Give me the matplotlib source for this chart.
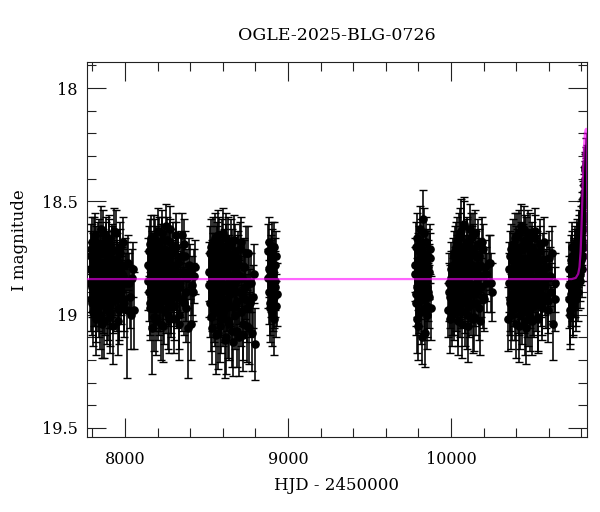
import matplotlib
matplotlib.use("Agg")
import matplotlib.pyplot as plt
from matplotlib.ticker import MultipleLocator

plt.rcParams['font.family'] = ['DejaVu Serif']

title = "OGLE-2025-BLG-0726"
xlabel = "HJD - 2450000"
ylabel = "I magnitude"

# ---- season data (HJD-2450000, I mag, error) ----
s1_hjd = [7786, 7790, 7794, 7797, 7801, 7805, 7808, 7812, 7816, 7820, 7823, 7827, 7831, 7835, 7838,
          7842, 7846, 7850, 7853, 7857, 7861, 7865, 7869, 7872, 7876, 7880, 7884, 7888, 7891, 7895,
          7899, 7903, 7907, 7911, 7915, 7919, 7923, 7927, 7931, 7935, 7940, 7945, 7950, 7955, 7960,
          7966, 7972, 7978, 7985, 7992, 8000, 8010, 8022, 8038, 8055]
s1_mag = [18.80, 18.93, 18.71, 18.88, 18.99, 18.76, 18.85, 18.67, 18.91, 18.82, 19.02, 18.74, 18.87, 18.79, 18.96,
          18.69, 18.84, 18.90, 18.73, 19.04, 18.81, 18.64, 18.89, 18.77, 18.95, 18.83, 18.70, 18.98, 18.86, 18.75,
          18.92, 18.66, 18.84, 19.01, 18.78, 18.88, 18.72, 18.94, 18.81, 18.63, 18.90, 18.85, 18.76, 19.03, 18.80,
          18.97, 18.70, 18.87, 18.83, 18.93, 18.78, 18.98, 18.86, 19.00, 18.98]
s1_err = [0.12, 0.14, 0.11, 0.13, 0.15, 0.12, 0.12, 0.10, 0.14, 0.12, 0.16, 0.11, 0.13, 0.12, 0.14,
          0.11, 0.13, 0.13, 0.11, 0.15, 0.12, 0.10, 0.13, 0.12, 0.14, 0.12, 0.11, 0.15, 0.13, 0.12,
          0.14, 0.10, 0.12, 0.16, 0.12, 0.13, 0.11, 0.14, 0.12, 0.10, 0.13, 0.13, 0.12, 0.15, 0.12,
          0.14, 0.11, 0.13, 0.12, 0.14, 0.12, 0.30, 0.13, 0.15, 0.17]
s1b_hjd = [7788, 7792, 7796, 7799, 7803, 7807, 7810, 7814, 7818, 7822, 7825, 7829, 7833, 7837, 7840,
           7844, 7848, 7852, 7855, 7859, 7863, 7867, 7871, 7874, 7878, 7882, 7886, 7890, 7893, 7897,
           7901, 7905, 7909, 7913, 7917, 7921, 7925, 7929, 7933, 7937, 7943, 7948, 7953, 7958, 7963,
           7969, 7975, 7982, 7989, 7996, 8005, 8016, 8030, 8046, 8050]
s1b_mag = [18.86, 18.74, 18.95, 18.68, 18.83, 18.91, 18.79, 18.65, 18.88, 18.97, 18.72, 18.85, 18.93, 18.70, 18.81,
           19.00, 18.77, 18.89, 18.62, 18.84, 18.94, 18.73, 18.86, 19.03, 18.78, 18.67, 18.90, 18.82, 18.96, 18.75,
           18.88, 18.69, 18.99, 18.80, 18.92, 18.71, 18.84, 19.05, 18.76, 18.87, 18.64, 18.93, 18.79, 18.85, 18.98,
           18.73, 18.90, 18.82, 18.68, 18.95, 18.86, 18.77, 18.92, 18.84, 18.80]
s1b_err = [0.13, 0.11, 0.14, 0.11, 0.12, 0.14, 0.12, 0.10, 0.13, 0.15, 0.11, 0.13, 0.14, 0.11, 0.12,
           0.15, 0.12, 0.13, 0.10, 0.13, 0.14, 0.11, 0.13, 0.16, 0.12, 0.10, 0.14, 0.12, 0.15, 0.12,
           0.13, 0.11, 0.15, 0.12, 0.14, 0.11, 0.13, 0.17, 0.12, 0.13, 0.10, 0.14, 0.12, 0.13, 0.15,
           0.11, 0.14, 0.12, 0.11, 0.15, 0.13, 0.12, 0.14, 0.13, 0.12]

s2_hjd = [8142, 8147, 8152, 8156, 8160, 8164, 8168, 8172, 8176, 8180, 8184, 8188, 8192, 8196, 8200,
          8204, 8208, 8212, 8216, 8220, 8224, 8228, 8232, 8236, 8240, 8244, 8248, 8252, 8256, 8260,
          8264, 8268, 8272, 8276, 8280, 8285, 8290, 8295, 8300, 8305, 8310, 8316, 8322, 8328, 8334,
          8340, 8347, 8354, 8361, 8368, 8376, 8385, 8396, 8410, 8427]
s2_mag = [18.78, 18.90, 18.69, 18.95, 18.83, 18.74, 19.06, 18.86, 18.66, 18.92, 18.80, 19.03, 18.72, 18.88, 18.81,
          18.97, 18.68, 18.85, 18.93, 18.76, 18.64, 18.89, 18.82, 19.05, 18.71, 18.87, 18.79, 18.94, 18.67, 18.84,
          19.00, 18.75, 18.91, 18.62, 18.83, 18.96, 18.73, 18.86, 19.02, 18.80, 18.70, 18.92, 18.85, 18.77, 19.04,
          18.88, 18.65, 18.82, 18.95, 18.74, 18.90, 19.06, 18.81, 18.87, 18.79]
s2_err = [0.12, 0.13, 0.11, 0.14, 0.12, 0.11, 0.20, 0.13, 0.10, 0.14, 0.12, 0.15, 0.11, 0.13, 0.12,
          0.14, 0.11, 0.13, 0.14, 0.12, 0.10, 0.13, 0.12, 0.16, 0.11, 0.13, 0.12, 0.14, 0.10, 0.13,
          0.15, 0.12, 0.14, 0.10, 0.12, 0.14, 0.11, 0.13, 0.15, 0.12, 0.11, 0.14, 0.13, 0.12, 0.16,
          0.13, 0.10, 0.12, 0.14, 0.11, 0.13, 0.22, 0.12, 0.13, 0.12]
s2b_hjd = [8144, 8149, 8154, 8158, 8162, 8166, 8170, 8174, 8178, 8182, 8186, 8190, 8194, 8198, 8202,
           8206, 8210, 8214, 8218, 8222, 8226, 8230, 8234, 8238, 8242, 8246, 8250, 8254, 8258, 8262,
           8266, 8270, 8274, 8278, 8282, 8287, 8292, 8297, 8302, 8307, 8313, 8319, 8325, 8331, 8337,
           8343, 8350, 8357, 8364, 8372, 8380, 8390, 8403, 8418, 8424]
s2b_mag = [18.85, 18.72, 18.97, 18.80, 18.66, 18.91, 18.83, 18.76, 19.01, 18.69, 18.87, 18.93, 18.74, 18.82, 18.63,
           18.95, 18.78, 18.89, 18.71, 19.04, 18.84, 18.67, 18.92, 18.80, 18.98, 18.75, 18.86, 18.61, 18.90, 18.82,
           18.73, 19.02, 18.85, 18.68, 18.94, 18.79, 18.88, 18.70, 18.96, 18.83, 18.65, 18.91, 18.77, 19.00, 18.86,
           18.74, 18.93, 18.81, 18.69, 18.97, 18.84, 18.78, 19.04, 18.90, 18.83]
s2b_err = [0.13, 0.11, 0.14, 0.12, 0.10, 0.14, 0.13, 0.12, 0.15, 0.11, 0.13, 0.14, 0.11, 0.12, 0.10,
           0.14, 0.12, 0.13, 0.11, 0.16, 0.13, 0.10, 0.14, 0.12, 0.15, 0.12, 0.13, 0.10, 0.14, 0.12,
           0.11, 0.15, 0.13, 0.10, 0.14, 0.12, 0.13, 0.11, 0.15, 0.12, 0.10, 0.14, 0.12, 0.15, 0.13,
           0.11, 0.14, 0.12, 0.11, 0.15, 0.13, 0.12, 0.16, 0.13, 0.12]

s3_hjd = [8516, 8521, 8526, 8530, 8534, 8538, 8542, 8546, 8550, 8554, 8558, 8562, 8566, 8570, 8574,
          8578, 8582, 8586, 8590, 8594, 8598, 8602, 8606, 8610, 8614, 8618, 8622, 8626, 8630, 8634,
          8638, 8642, 8646, 8650, 8655, 8660, 8665, 8670, 8675, 8680, 8686, 8692, 8698, 8704, 8710,
          8716, 8722, 8728, 8735, 8742, 8750, 8758, 8767, 8778, 8792]
s3_mag = [18.81, 18.95, 18.70, 18.88, 19.06, 18.76, 18.92, 18.84, 18.66, 18.99, 18.79, 18.90, 18.73, 19.08, 18.86,
          18.68, 18.94, 18.82, 19.02, 18.75, 18.89, 18.64, 18.97, 18.80, 18.87, 19.10, 18.72, 18.93, 18.83, 18.69,
          19.04, 18.78, 18.91, 18.85, 18.74, 19.12, 18.88, 18.67, 18.96, 18.81, 19.07, 18.77, 18.90, 18.71, 18.99,
          18.84, 19.09, 18.79, 18.93, 18.73, 19.05, 18.86, 18.95, 19.08, 18.82]
s3_err = [0.13, 0.15, 0.12, 0.14, 0.16, 0.12, 0.14, 0.13, 0.11, 0.15, 0.13, 0.14, 0.12, 0.16, 0.13,
          0.11, 0.15, 0.13, 0.15, 0.12, 0.14, 0.11, 0.15, 0.13, 0.14, 0.16, 0.12, 0.14, 0.13, 0.12,
          0.16, 0.12, 0.14, 0.13, 0.12, 0.15, 0.14, 0.11, 0.15, 0.13, 0.16, 0.12, 0.14, 0.12, 0.15,
          0.13, 0.16, 0.13, 0.14, 0.12, 0.16, 0.13, 0.15, 0.17, 0.13]
s3b_hjd = [8518, 8523, 8528, 8532, 8536, 8540, 8544, 8548, 8552, 8556, 8560, 8564, 8568, 8572, 8576,
           8580, 8584, 8588, 8592, 8596, 8600, 8604, 8608, 8612, 8616, 8620, 8624, 8628, 8632, 8636,
           8640, 8644, 8648, 8652, 8657, 8662, 8667, 8672, 8677, 8683, 8689, 8695, 8701, 8707, 8713,
           8719, 8725, 8731, 8738, 8746, 8754, 8762, 8772, 8785, 8796]
s3b_mag = [18.87, 18.73, 19.01, 18.80, 18.93, 18.68, 18.85, 18.97, 18.76, 19.09, 18.83, 18.71, 18.92, 18.65, 18.88,
           19.05, 18.79, 18.95, 18.86, 18.70, 18.99, 18.82, 18.74, 19.11, 18.89, 18.66, 18.93, 18.80, 19.03, 18.77,
           18.90, 18.84, 18.69, 18.96, 19.07, 18.78, 18.87, 18.72, 19.00, 18.85, 18.94, 18.75, 19.10, 18.83, 18.68,
           18.91, 19.04, 18.79, 18.88, 18.97, 18.73, 19.06, 18.86, 18.92, 19.13]
s3b_err = [0.14, 0.12, 0.15, 0.13, 0.14, 0.11, 0.13, 0.15, 0.12, 0.17, 0.13, 0.12, 0.14, 0.11, 0.14,
           0.16, 0.12, 0.15, 0.13, 0.12, 0.15, 0.13, 0.12, 0.17, 0.14, 0.11, 0.14, 0.13, 0.16, 0.12,
           0.14, 0.13, 0.11, 0.15, 0.16, 0.12, 0.14, 0.12, 0.15, 0.13, 0.15, 0.12, 0.17, 0.13, 0.11,
           0.14, 0.16, 0.12, 0.14, 0.15, 0.12, 0.16, 0.13, 0.14, 0.16]

s4_hjd = [8878, 8882, 8886, 8890, 8894, 8898, 8902, 8906, 8910, 8914, 8918, 8922, 8926, 8931]
s4_mag = [18.72, 18.90, 18.80, 18.97, 18.76, 18.86, 18.70, 18.93, 18.82, 19.02, 18.78, 18.88, 18.74, 18.91]
s4_err = [0.12, 0.14, 0.12, 0.15, 0.11, 0.13, 0.11, 0.14, 0.12, 0.16, 0.12, 0.13, 0.11, 0.14]
s4b_hjd = [8880, 8884, 8888, 8892, 8896, 8900, 8904, 8908, 8912, 8916, 8920, 8924]
s4b_mag = [18.84, 18.68, 18.95, 18.79, 18.88, 18.73, 18.99, 18.81, 18.70, 18.92, 18.85, 18.96]
s4b_err = [0.13, 0.11, 0.14, 0.12, 0.13, 0.11, 0.15, 0.12, 0.11, 0.14, 0.13, 0.14]

s5_hjd = [9780, 9784, 9788, 9792, 9796, 9800, 9804, 9808, 9812, 9816, 9820, 9824, 9828, 9832, 9836,
          9840, 9844, 9848, 9852, 9856, 9861, 9866, 9872, 9880]
s5_mag = [18.82, 18.95, 18.70, 18.88, 19.05, 18.76, 18.91, 18.62, 18.84, 18.99, 18.73, 18.87, 18.58, 18.93, 18.79,
          19.08, 18.68, 18.85, 18.96, 18.74, 18.90, 18.81, 18.75, 18.97]
s5_err = [0.12, 0.14, 0.11, 0.13, 0.15, 0.12, 0.14, 0.10, 0.13, 0.14, 0.11, 0.13, 0.13, 0.14, 0.12,
          0.15, 0.11, 0.13, 0.14, 0.12, 0.13, 0.12, 0.11, 0.14]
s5b_hjd = [9782, 9786, 9790, 9794, 9798, 9802, 9806, 9810, 9814, 9818, 9822, 9826, 9830, 9834, 9838,
           9842, 9846, 9850, 9854, 9858, 9864, 9869]
s5b_mag = [18.78, 18.91, 18.66, 19.02, 18.85, 18.72, 18.94, 18.81, 18.69, 18.89, 19.10, 18.76, 18.86, 18.64, 18.97,
           18.83, 18.74, 19.00, 18.88, 18.79, 18.92, 18.71]
s5b_err = [0.12, 0.14, 0.11, 0.15, 0.13, 0.11, 0.14, 0.12, 0.11, 0.13, 0.12, 0.12, 0.13, 0.11, 0.14,
           0.13, 0.11, 0.15, 0.13, 0.12, 0.14, 0.11]

s6_hjd = [9984, 9990, 9996, 10001, 10006, 10011, 10016, 10021, 10026, 10030, 10034, 10038, 10042, 10046, 10050,
          10054, 10058, 10062, 10066, 10070, 10074, 10078, 10082, 10086, 10090, 10094, 10098, 10102, 10106, 10110,
          10114, 10118, 10122, 10126, 10130, 10135, 10140, 10145, 10150, 10155, 10160, 10166, 10172, 10178, 10185,
          10193, 10202, 10214, 10230, 10248]
s6_mag = [18.98, 18.86, 18.92, 18.80, 19.00, 18.84, 18.74, 18.95, 18.82, 18.70, 18.90, 18.77, 19.03, 18.66, 18.86,
          18.79, 18.96, 18.63, 18.88, 18.73, 18.92, 18.81, 18.60, 18.99, 18.76, 18.85, 18.68, 19.05, 18.79, 18.90,
          18.62, 18.83, 18.95, 18.72, 18.87, 18.65, 19.01, 18.80, 18.91, 18.74, 18.84, 18.69, 18.97, 18.78, 18.88,
          18.71, 18.93, 18.82, 18.77, 18.86]
s6_err = [0.12, 0.13, 0.14, 0.12, 0.14, 0.12, 0.11, 0.14, 0.12, 0.11, 0.13, 0.12, 0.15, 0.11, 0.13,
          0.12, 0.14, 0.14, 0.13, 0.11, 0.13, 0.12, 0.12, 0.15, 0.11, 0.13, 0.11, 0.16, 0.12, 0.13,
          0.11, 0.12, 0.14, 0.11, 0.13, 0.10, 0.15, 0.12, 0.14, 0.11, 0.12, 0.11, 0.14, 0.12, 0.13,
          0.11, 0.14, 0.12, 0.12, 0.13]
s6b_hjd = [9987, 9993, 9999, 10004, 10009, 10014, 10019, 10024, 10028, 10032, 10036, 10040, 10044, 10048, 10052,
           10056, 10060, 10064, 10068, 10072, 10076, 10080, 10084, 10088, 10092, 10096, 10100, 10104, 10108, 10112,
           10116, 10120, 10124, 10128, 10132, 10137, 10142, 10147, 10152, 10157, 10163, 10169, 10175, 10181, 10189,
           10197, 10208, 10222, 10240, 10252]
s6b_mag = [18.90, 19.02, 18.84, 18.95, 18.78, 18.88, 18.97, 18.72, 18.85, 18.93, 18.68, 18.81, 18.99, 18.75, 18.89,
           18.64, 18.92, 18.79, 19.04, 18.70, 18.86, 18.61, 18.94, 18.77, 18.83, 19.00, 18.69, 18.88, 18.73, 18.96,
           18.82, 18.66, 18.91, 18.78, 19.02, 18.71, 18.87, 18.64, 18.95, 18.80, 18.89, 18.74, 19.03, 18.83, 18.68,
           18.92, 18.79, 18.86, 18.77, 18.90]
s6b_err = [0.13, 0.15, 0.12, 0.14, 0.12, 0.13, 0.14, 0.11, 0.13, 0.14, 0.11, 0.12, 0.15, 0.12, 0.13,
           0.11, 0.14, 0.12, 0.15, 0.11, 0.13, 0.11, 0.14, 0.12, 0.13, 0.15, 0.11, 0.13, 0.12, 0.14,
           0.12, 0.11, 0.14, 0.12, 0.15, 0.11, 0.13, 0.10, 0.14, 0.12, 0.13, 0.12, 0.15, 0.12, 0.11,
           0.14, 0.12, 0.13, 0.12, 0.13]

s7_hjd = [10352, 10357, 10362, 10367, 10372, 10377, 10382, 10386, 10390, 10394, 10398, 10402, 10406, 10410, 10414,
          10418, 10422, 10426, 10430, 10434, 10438, 10442, 10446, 10450, 10454, 10458, 10462, 10466, 10470, 10474,
          10478, 10482, 10486, 10490, 10494, 10498, 10503, 10508, 10513, 10518, 10523, 10528, 10534, 10540, 10546,
          10552, 10558, 10565, 10572, 10580, 10588, 10597, 10607, 10620, 10635]
s7_mag = [19.02, 18.80, 18.93, 18.71, 18.87, 18.97, 18.76, 18.90, 18.66, 18.84, 19.04, 18.73, 18.88, 18.79, 18.95,
          18.64, 18.85, 19.00, 18.70, 18.91, 18.77, 18.83, 18.62, 18.94, 18.80, 19.06, 18.68, 18.87, 18.75, 18.99,
          18.82, 18.65, 18.92, 18.78, 19.03, 18.72, 18.86, 18.96, 18.63, 18.84, 18.90, 18.74, 19.01, 18.81, 18.69,
          18.88, 18.95, 18.76, 18.85, 18.92, 18.79, 18.98, 18.83, 18.73, 18.93]
s7_err = [0.14, 0.12, 0.14, 0.11, 0.13, 0.14, 0.12, 0.13, 0.11, 0.13, 0.15, 0.11, 0.13, 0.12, 0.14,
          0.10, 0.13, 0.15, 0.11, 0.14, 0.12, 0.13, 0.10, 0.14, 0.12, 0.16, 0.11, 0.13, 0.12, 0.15,
          0.12, 0.10, 0.14, 0.12, 0.15, 0.11, 0.13, 0.14, 0.10, 0.12, 0.13, 0.11, 0.15, 0.12, 0.11,
          0.13, 0.14, 0.12, 0.13, 0.14, 0.12, 0.14, 0.13, 0.12, 0.14]
s7b_hjd = [10354, 10359, 10364, 10369, 10374, 10379, 10384, 10388, 10392, 10396, 10400, 10404, 10408, 10412, 10416,
           10420, 10424, 10428, 10432, 10436, 10440, 10444, 10448, 10452, 10456, 10460, 10464, 10468, 10472, 10476,
           10480, 10484, 10488, 10492, 10496, 10500, 10505, 10510, 10515, 10520, 10525, 10531, 10537, 10543, 10549,
           10555, 10561, 10568, 10576, 10584, 10592, 10602, 10613, 10627, 10638]
s7b_mag = [18.86, 18.95, 18.74, 19.00, 18.83, 18.69, 18.91, 18.80, 18.97, 18.72, 18.88, 18.65, 18.94, 18.81, 19.05,
           18.76, 18.89, 18.61, 18.85, 18.98, 18.71, 18.92, 18.83, 19.03, 18.67, 18.87, 18.78, 18.96, 18.64, 18.90,
           18.82, 19.01, 18.73, 18.88, 18.70, 18.95, 18.79, 18.86, 18.66, 18.93, 18.77, 19.02, 18.84, 18.72, 18.91,
           18.80, 18.97, 18.68, 18.87, 18.83, 18.94, 18.75, 18.90, 19.04, 18.86]
s7b_err = [0.13, 0.14, 0.11, 0.15, 0.12, 0.11, 0.14, 0.12, 0.14, 0.11, 0.13, 0.10, 0.14, 0.12, 0.16,
           0.12, 0.13, 0.10, 0.13, 0.15, 0.11, 0.14, 0.12, 0.15, 0.11, 0.13, 0.12, 0.14, 0.10, 0.13,
           0.12, 0.15, 0.11, 0.13, 0.11, 0.14, 0.12, 0.13, 0.10, 0.14, 0.12, 0.15, 0.13, 0.11, 0.14,
           0.12, 0.14, 0.11, 0.13, 0.12, 0.14, 0.12, 0.13, 0.16, 0.13]

s8_hjd = [10722, 10726, 10731, 10735, 10739, 10743, 10747, 10751, 10755, 10759, 10763, 10767, 10771, 10775, 10779,
          10783, 10787, 10790, 10793, 10796, 10799, 10802, 10805, 10808, 10811, 10814, 10817, 10820, 10822, 10824,
          10826, 10828, 10830, 10832]
s8_mag = [18.93, 18.80, 19.00, 18.86, 18.74, 18.90, 18.82, 18.96, 18.77, 18.88, 18.72, 18.92, 18.80, 18.70, 18.86,
          18.74, 18.66, 18.82, 18.70, 18.62, 18.76, 18.58, 18.68, 18.52, 18.62, 18.46, 18.56, 18.40, 18.50, 18.36,
          18.44, 18.33, 18.38, 18.32]
s8_err = [0.13, 0.12, 0.15, 0.12, 0.11, 0.13, 0.12, 0.14, 0.11, 0.13, 0.11, 0.13, 0.12, 0.11, 0.12,
          0.11, 0.10, 0.12, 0.10, 0.10, 0.11, 0.09, 0.10, 0.09, 0.09, 0.08, 0.09, 0.08, 0.08, 0.07,
          0.08, 0.07, 0.07, 0.07]
s8b_hjd = [10724, 10728, 10733, 10737, 10741, 10745, 10749, 10753, 10757, 10761, 10765, 10769, 10773, 10777, 10781,
           10785, 10789, 10792, 10795, 10798, 10801, 10804, 10807, 10810, 10813, 10816, 10819, 10823, 10827, 10831]
s8b_mag = [18.87, 18.98, 18.76, 18.91, 18.83, 18.70, 18.95, 18.79, 18.88, 18.73, 18.93, 18.82, 18.68, 18.90, 18.77,
           18.64, 18.85, 18.72, 18.60, 18.66, 18.80, 18.55, 18.74, 18.49, 18.70, 18.43, 18.58, 18.35, 18.29, 18.27]
s8b_err = [0.13, 0.15, 0.11, 0.14, 0.12, 0.11, 0.14, 0.12, 0.13, 0.11, 0.14, 0.12, 0.10, 0.13, 0.11,
           0.10, 0.12, 0.11, 0.10, 0.10, 0.12, 0.09, 0.11, 0.08, 0.10, 0.08, 0.09, 0.07, 0.07, 0.07]

# ---- model curve ----
model_hjd = [7700, 10740, 10765, 10780, 10788, 10795, 10800, 10805, 10810, 10815, 10820, 10825, 10829, 10832, 10835, 10840]
model_mag = [18.843, 18.843, 18.838, 18.82, 18.79, 18.72, 18.62, 18.50, 18.36, 18.26, 18.21, 18.185, 18.18, 18.25, 18.45, 18.9]

seasons = [(s1_hjd, s1_mag, s1_err), (s1b_hjd, s1b_mag, s1b_err),
           (s2_hjd, s2_mag, s2_err), (s2b_hjd, s2b_mag, s2b_err),
           (s3_hjd, s3_mag, s3_err), (s3b_hjd, s3b_mag, s3b_err),
           (s4_hjd, s4_mag, s4_err), (s4b_hjd, s4b_mag, s4b_err),
           (s5_hjd, s5_mag, s5_err), (s5b_hjd, s5b_mag, s5b_err),
           (s6_hjd, s6_mag, s6_err), (s6b_hjd, s6b_mag, s6b_err),
           (s7_hjd, s7_mag, s7_err), (s7b_hjd, s7b_mag, s7b_err),
           (s8_hjd, s8_mag, s8_err), (s8b_hjd, s8b_mag, s8b_err)]

fig = plt.figure(figsize=(6.0, 5.12), dpi=100)
ax = fig.add_axes([87/600, 1 - 437/512, 500/600, 375/512])

for h, m, e in seasons:
    ax.errorbar(h, m, yerr=e, fmt='o', color='black', ms=5.2, mec='black',
                ecolor='black', elinewidth=1.15, capsize=2.6, capthick=1.0, zorder=2)

ax.plot(model_hjd, model_mag, color=(1, 0, 1), alpha=0.6, lw=1.6, zorder=3)

ax.set_xlim(7767, 10834)
ax.set_ylim(19.54, 17.885)

ax.xaxis.set_major_locator(MultipleLocator(1000))
ax.xaxis.set_minor_locator(MultipleLocator(200))
ax.yaxis.set_major_locator(MultipleLocator(0.5))
ax.yaxis.set_minor_locator(MultipleLocator(0.1))
ax.yaxis.set_major_formatter(plt.FuncFormatter(lambda v, p: ('%g' % v)))

ax.tick_params(which='both', direction='in', top=True, right=True, width=0.8, colors='#222222')
ax.tick_params(which='major', length=13.7)
ax.tick_params(which='minor', length=6.8)
ax.tick_params(axis='x', which='major', pad=10, labelsize=11.5, labelcolor='black')
ax.tick_params(axis='y', which='major', pad=6.5, labelsize=11.5, labelcolor='black')
for s in ax.spines.values():
    s.set_linewidth(0.8)
    s.set_color('#222222')

fig.text(337/600, 1 - 35/512, title, ha='center', va='center', fontsize=12.5)
fig.text(337/600, 1 - 485/512, xlabel, ha='center', va='center', fontsize=12)
fig.text(20/600, 1 - 240/512, ylabel, ha='center', va='center', rotation=90, fontsize=12)

fig.savefig("out.png", dpi=100)
